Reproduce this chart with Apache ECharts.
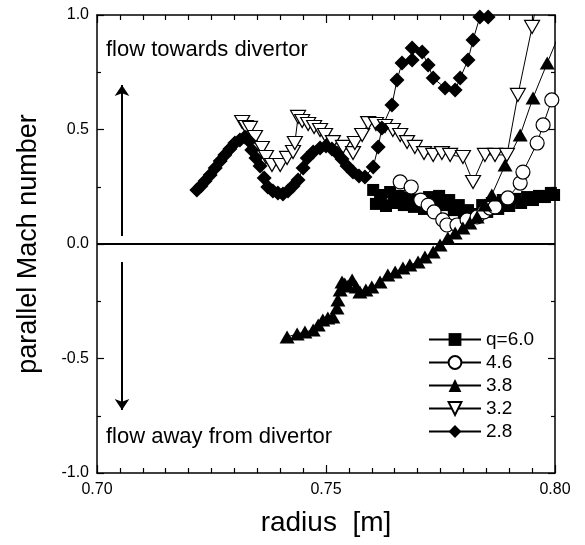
<!DOCTYPE html>
<html><head><meta charset="utf-8">
<script src="https://cdn.jsdelivr.net/npm/echarts@6/dist/echarts.min.js"></script>
<style>html,body{margin:0;padding:0;background:#fff}#c{width:585px;height:545px}</style>
</head><body><div id="c"></div>
<script>
const FONT = '"Liberation Sans", Arial, Helvetica, sans-serif';

// q = 6.0 (filled squares)
const r60 = [0.7603,0.7609,0.7620,0.7631,0.7640,0.7648,0.7659,0.7670,0.7681,0.7692,0.7703,0.7714,0.7725,0.7736,0.7747,0.7758,0.7769,0.7779,0.7790,0.7801,0.7810,0.7819,0.7830,0.7841,0.7852,0.7862,0.7876,0.7886,0.7900,0.7913,0.7926,0.7939,0.7952,0.7965,0.7978,0.7991,0.7998];
const m60 = [0.236,0.175,0.214,0.166,0.227,0.179,0.210,0.170,0.201,0.162,0.192,0.153,0.205,0.166,0.210,0.170,0.192,0.148,0.170,0.127,0.148,0.118,0.131,0.170,0.140,0.179,0.153,0.192,0.166,0.197,0.179,0.205,0.192,0.210,0.205,0.223,0.214];

// q = 4.6 (open circles)
const r46 = [0.7662,0.7686,0.7707,0.7723,0.7736,0.7755,0.7764,0.7786,0.7808,0.7830,0.7845,0.7858,0.7869,0.7897,0.7924,0.7930,0.7961,0.7974,0.7993];
const m46 = [0.271,0.249,0.192,0.170,0.140,0.105,0.083,0.083,0.105,0.118,0.140,0.157,0.162,0.201,0.266,0.314,0.441,0.520,0.629];

// q = 3.8 (filled triangles)
const r38 = [0.7415,0.7437,0.7454,0.7472,0.7483,0.7493,0.7504,0.7515,0.7524,0.7526,0.7531,0.7535,0.7541,0.7548,0.7557,0.7566,0.7574,0.7587,0.7600,0.7618,0.7635,0.7651,0.7668,0.7683,0.7701,0.7716,0.7734,0.7749,0.7766,0.7782,0.7799,0.7814,0.7830,0.7847,0.7862,0.7891,0.7924,0.7952,0.7983,0.8012];
const m38 = [-0.406,-0.393,-0.384,-0.376,-0.354,-0.332,-0.323,-0.319,-0.279,-0.245,-0.201,-0.166,-0.175,-0.183,-0.157,-0.188,-0.210,-0.201,-0.188,-0.166,-0.135,-0.122,-0.105,-0.092,-0.079,-0.057,-0.035,-0.004,0.026,0.048,0.070,0.092,0.118,0.170,0.214,0.345,0.476,0.638,0.790,0.930];

// q = 3.2 (open down-triangles)
const r32 = [0.7317,0.7325,0.7334,0.7345,0.7360,0.7369,0.7382,0.7400,0.7415,0.7428,0.7432,0.7439,0.7448,0.7461,0.7474,0.7487,0.7498,0.7515,0.7537,0.7559,0.7563,0.7579,0.7592,0.7609,0.7629,0.7646,0.7662,0.7677,0.7694,0.7714,0.7734,0.7753,0.7771,0.7799,0.7821,0.7847,0.7869,0.7895,0.7919,0.7950,0.7978];
const m32 = [0.533,0.511,0.507,0.467,0.419,0.380,0.345,0.345,0.376,0.402,0.441,0.555,0.537,0.524,0.511,0.498,0.476,0.445,0.424,0.397,0.441,0.476,0.528,0.524,0.515,0.498,0.476,0.445,0.424,0.397,0.389,0.397,0.389,0.380,0.271,0.389,0.389,0.389,0.651,0.948,1.250];

// q = 2.8 (filled diamonds)
const r28 = [0.7218,0.7227,0.7236,0.7247,0.7258,0.7269,0.7279,0.7290,0.7301,0.7312,0.7323,0.7332,0.7338,0.7347,0.7356,0.7365,0.7373,0.7384,0.7395,0.7406,0.7417,0.7428,0.7439,0.7450,0.7459,0.7472,0.7487,0.7500,0.7513,0.7524,0.7535,0.7546,0.7559,0.7572,0.7585,0.7603,0.7614,0.7622,0.7644,0.7655,0.7666,0.7688,0.7688,0.7710,0.7723,0.7734,0.7760,0.7782,0.7793,0.7810,0.7821,0.7836,0.7854];
const m28 = [0.236,0.253,0.275,0.301,0.332,0.362,0.389,0.415,0.441,0.454,0.467,0.450,0.410,0.376,0.341,0.288,0.249,0.231,0.223,0.218,0.231,0.253,0.279,0.332,0.376,0.402,0.419,0.428,0.415,0.397,0.371,0.341,0.314,0.297,0.293,0.336,0.424,0.507,0.607,0.716,0.790,0.803,0.856,0.838,0.782,0.725,0.681,0.672,0.725,0.803,0.891,0.991,0.991];

const legendNames = ['q=6.0','4.6','3.8','3.2','2.8'];
const xTickLabels = ['0.70','0.75','0.80'];
const yTickLabels = ['-1.0','-0.5','0.0','0.5','1.0'];

const zip = (a, b) => a.map((v, i) => [v, b[i]]);

const axisLine = {show: true, onZero: false, lineStyle: {color: '#000', width: 1.5}};
const tickStyle = {color: '#000', width: 1.2};

const chart = echarts.init(document.getElementById('c'), null, {renderer: 'canvas'});

function lineSeries(name, data, symbol, size, filled, rotate) {
  return {
    name, type: 'line', data, symbol, symbolSize: size, symbolRotate: rotate || 0,
    showAllSymbol: true, clip: true,
    lineStyle: {color: '#000', width: 1},
    itemStyle: filled ? {color: '#000', borderColor: '#000', borderWidth: 0}
                      : {color: '#fff', borderColor: '#000', borderWidth: 1.2},
    emphasis: {disabled: true}
  };
}

const option = {
  animation: false,
  textStyle: {fontFamily: FONT, color: '#000'},
  grid: {left: 97, right: 30, top: 15, bottom: 72},
  xAxis: [
    {type: 'value', min: 0.70, max: 0.80, interval: 0.05, position: 'bottom',
     axisLine, axisTick: {show: true, inside: true, length: 8, lineStyle: tickStyle},
     minorTick: {show: true, splitNumber: 10, length: 5, lineStyle: tickStyle},
     splitLine: {show: false}, minorSplitLine: {show: false},
     axisLabel: {color: '#000', fontSize: 16, fontFamily: FONT, margin: 9,
                 formatter: v => xTickLabels[Math.round((v - 0.70) / 0.05)] || ''},
     name: 'radius  [m]', nameLocation: 'middle', nameGap: 36,
     nameTextStyle: {fontSize: 28, color: '#000', fontFamily: FONT}},
    {type: 'value', min: 0.70, max: 0.80, interval: 0.05, position: 'top',
     axisLine, axisTick: {show: true, inside: true, length: 8, lineStyle: tickStyle},
     minorTick: {show: true, splitNumber: 10, length: 5, lineStyle: tickStyle},
     splitLine: {show: false}, axisLabel: {show: false}}
  ],
  yAxis: [
    {type: 'value', min: -1, max: 1, interval: 0.5, position: 'left',
     axisLine, axisTick: {show: true, inside: true, length: 7, lineStyle: tickStyle},
     minorTick: {show: true, splitNumber: 2, length: 4, lineStyle: tickStyle},
     splitLine: {show: false},
     axisLabel: {color: '#000', fontSize: 16, fontFamily: FONT, margin: 8,
                 formatter: v => yTickLabels[Math.round((v + 1) / 0.5)] || ''},
     name: 'parallel Mach number', nameLocation: 'middle', nameGap: 55, nameRotate: 90,
     nameTextStyle: {fontSize: 27, color: '#000', fontFamily: FONT}},
    {type: 'value', min: -1, max: 1, interval: 0.5, position: 'right',
     axisLine, axisTick: {show: true, inside: true, length: 7, lineStyle: tickStyle},
     minorTick: {show: true, splitNumber: 2, length: 4, lineStyle: tickStyle},
     splitLine: {show: false}, axisLabel: {show: false}}
  ],
  legend: {
    orient: 'vertical', left: 428, top: 330, padding: 0, itemWidth: 52, itemHeight: 16, itemGap: 4,
    textStyle: {fontSize: 19, color: '#000', fontFamily: FONT},
    data: legendNames, selectedMode: false
  },
  graphic: [
    {type: 'text', x: 106, y: 50, style: {text: 'flow towards divertor', fontSize: 22, fontFamily: FONT, fill: '#000', verticalAlign: 'middle', align: 'left'}},
    {type: 'text', x: 106, y: 437, style: {text: 'flow away from divertor', fontSize: 22, fontFamily: FONT, fill: '#000', verticalAlign: 'middle', align: 'left'}}
  ],
  series: [
    {name: 'annot', type: 'line', data: [], silent: true,
     markLine: {silent: true, animation: false, symbol: ['none', 'arrow'], symbolSize: 11,
       label: {show: false}, lineStyle: {color: '#000', width: 2, type: 'solid'},
       emphasis: {disabled: true},
       data: [
         [{coord: [0.70, 0], symbol: 'none'}, {coord: [0.80, 0], symbol: 'none'}],
         [{coord: [0.70546, 0.035]}, {coord: [0.70546, 0.694]}],
         [{coord: [0.70546, -0.079]}, {coord: [0.70546, -0.725]}]
       ]}},
    lineSeries('q=6.0', zip(r60, m60), 'rect', 12, true),
    lineSeries('4.6', zip(r46, m46), 'circle', 14, false),
    lineSeries('3.8', zip(r38, m38), 'triangle', [15, 13], true),
    lineSeries('3.2', zip(r32, m32), 'triangle', [15, 13], false, 180),
    lineSeries('2.8', zip(r28, m28), 'diamond', 15, true)
  ]
};
chart.setOption(option);
</script></body></html>
